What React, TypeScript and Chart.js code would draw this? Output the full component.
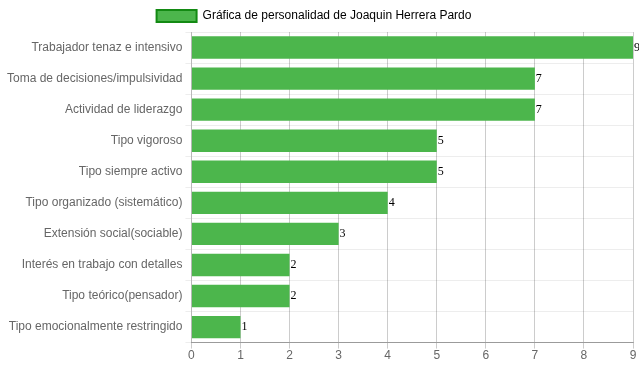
import React, { useEffect, useRef } from "react";
import { Chart, registerables } from "chart.js";

Chart.register(...registerables);

const categories = [
  "Trabajador tenaz e intensivo",
  "Toma de decisiones/impulsividad",
  "Actividad de liderazgo",
  "Tipo vigoroso",
  "Tipo siempre activo",
  "Tipo organizado (sistemático)",
  "Extensión social(sociable)",
  "Interés en trabajo con detalles",
  "Tipo teórico(pensador)",
  "Tipo emocionalmente restringido",
];
const values = [9, 7, 7, 5, 5, 4, 3, 2, 2, 1];
const seriesLabel = "Gráfica de personalidad de Joaquin Herrera Pardo";
const xTicks = [0, 1, 2, 3, 4, 5, 6, 7, 8, 9];

const valueLabelPlugin = {
  id: "valueLabels",
  afterDatasetsDraw(chart: any) {
    const ctx = chart.ctx;
    const meta = chart.getDatasetMeta(0);
    ctx.save();
    ctx.font = '12px "Liberation Serif", "DejaVu Serif", serif';
    ctx.fillStyle = "#000";
    ctx.textAlign = "left";
    ctx.textBaseline = "middle";
    meta.data.forEach((bar: any, i: number) => {
      ctx.fillText(String(values[i]), bar.x + 1, bar.y);
    });
    ctx.restore();
  },
};

const legendShiftPlugin = {
  id: "legendShift",
  afterLayout(chart: any) {
    if (chart.legend) chart.legend.right -= 9;
  },
};

export default function App() {
  const ref = useRef<HTMLCanvasElement>(null);
  useEffect(() => {
    if (!ref.current) return;
    const chart = new Chart(ref.current, {
      type: "bar",
      data: {
        labels: categories,
        datasets: [
          {
            label: seriesLabel,
            data: values,
            backgroundColor: "#4cb64c",
            borderColor: "#138a13",
            borderWidth: 0,
          },
        ],
      },
      options: {
        indexAxis: "y",
        animation: false,
        responsive: false,
        maintainAspectRatio: false,
        layout: { padding: { left: 4, right: 6, top: 0, bottom: 9 } },
        plugins: {
          legend: {
            position: "top",
            labels: {
              color: "#666",
              font: { family: "'Liberation Sans', Arial, sans-serif", size: 12 },
              boxWidth: 40,
              boxHeight: 12,
              generateLabels: () => [
                {
                  text: seriesLabel,
                  fillStyle: "#4cb64c",
                  strokeStyle: "#138a13",
                  lineWidth: 2,
                  hidden: false,
                  datasetIndex: 0,
                },
              ],
            },
          },
          tooltip: { enabled: false },
        },
        scales: {
          x: {
            min: 0,
            max: 9,
            ticks: {
              stepSize: 1,
              padding: 0,
              color: "#666",
              font: { family: "'Liberation Sans', Arial, sans-serif", size: 12 },
              callback: (v: any) => String(xTicks[v] ?? v),
            },
            grid: { color: "rgba(0,0,0,0.2)", tickLength: 6 },
            border: { color: "rgba(0,0,0,0.35)" },
          },
          y: {
            ticks: {
              color: "#666",
              font: { family: "'Liberation Sans', Arial, sans-serif", size: 12 },
            },
            grid: { color: "rgba(0,0,0,0.07)", tickLength: 6 },
            border: { color: "rgba(0,0,0,0.1)" },
          },
        },
      },
      plugins: [valueLabelPlugin, legendShiftPlugin],
    });
    return () => chart.destroy();
  }, []);
  return (
    <div style={{ position: "absolute", left: 0, top: 0, width: 639, height: 372 }}>
      <canvas ref={ref} width={639} height={372} />
    </div>
  );
}
